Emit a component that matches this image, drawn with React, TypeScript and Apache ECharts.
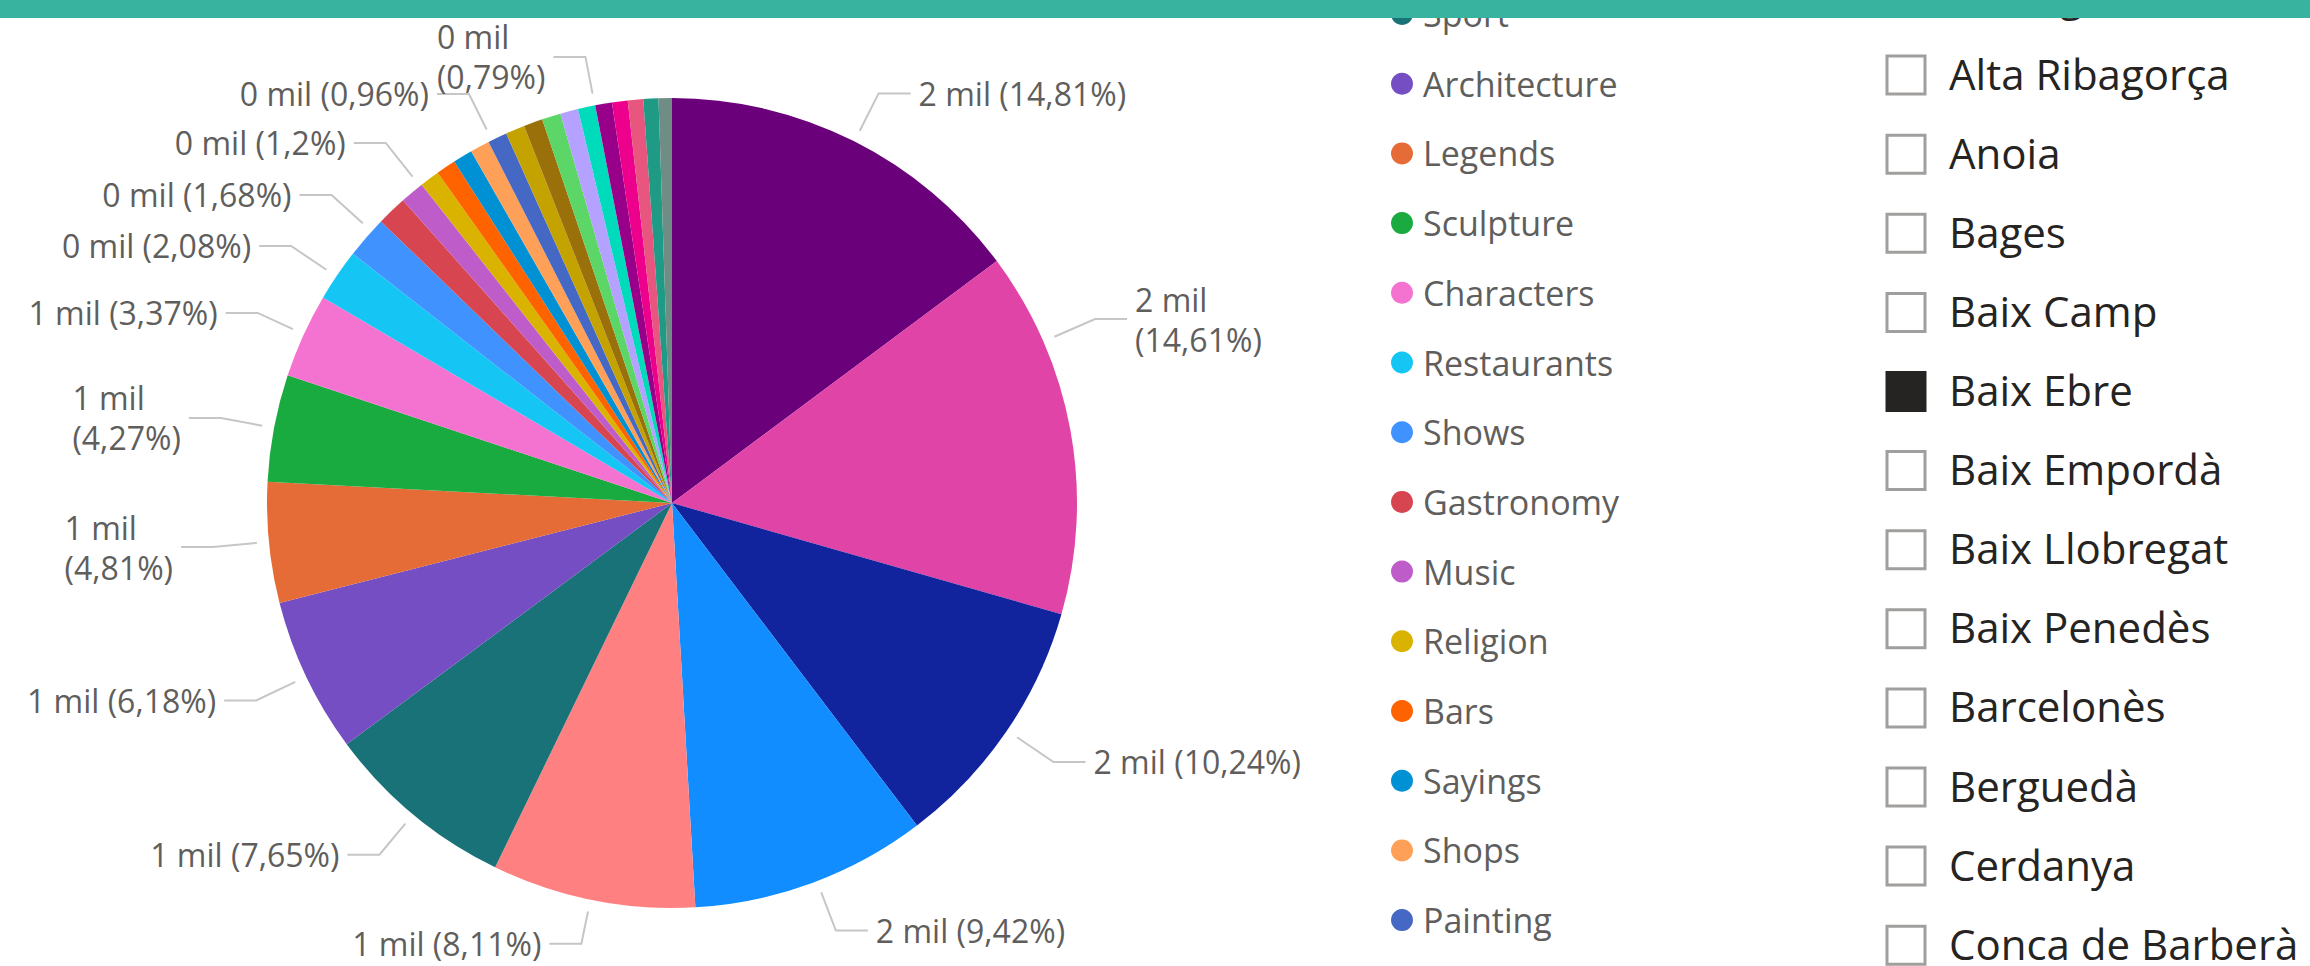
import React, { useEffect, useRef } from "react";
import * as echarts from "echarts";

// ---- data ----
const categories = [
  "Category 1", "Category 2", "Category 3", "Category 4", "Category 5",
  "Sport", "Architecture", "Legends", "Sculpture", "Characters",
  "Restaurants", "Shows", "Gastronomy", "Music", "Religion",
  "Bars", "Sayings", "Shops", "Painting",
  "Category 20", "Category 21", "Category 22", "Category 23", "Category 24",
  "Category 25", "Category 26", "Category 27", "Category 28", "Category 29",
];
const values = [
  2370, 2338, 1638, 1507, 1298,
  1224, 989, 770, 683, 539,
  333, 269, 192, 153, 126,
  125, 125, 124, 123,
  122, 121, 120, 114, 111,
  107, 100, 98, 96, 85,
];
const colors = [
  "#6B007B", "#E044A7", "#12239E", "#118DFF", "#FF8080",
  "#197278", "#744EC2", "#E66C37", "#1AAB40", "#F472D0",
  "#15C6F4", "#4092FF", "#D64550", "#BE5DC9", "#D9B300",
  "#FF6300", "#0091D5", "#FFA058", "#4668C5",
  "#C4A200", "#99700A", "#5BD667", "#B5A1FF", "#00DBBC",
  "#99008A", "#EC008C", "#E8557E", "#1F9A85", "#6F8C85",
];
const legendNames = [
  "Sport", "Architecture", "Legends", "Sculpture", "Characters", "Restaurants",
  "Shows", "Gastronomy", "Music", "Religion", "Bars", "Sayings", "Shops", "Painting",
];
const wrappedLabels = ["Category 2", "Legends", "Sculpture", "Religion"];
const labelMinValue = 126;

const slicerItems = [
  "Alt Urgell", "Alta Ribagorça", "Anoia", "Bages", "Baix Camp", "Baix Ebre",
  "Baix Empordà", "Baix Llobregat", "Baix Penedès", "Barcelonès", "Berguedà",
  "Cerdanya", "Conca de Barberà",
];
const slicerSelected = ["Baix Ebre"];

// label nudges (style): [dx, dy] in px relative to ECharts' own placement
const labelNudges: Record<string, [number, number]> = {
  "Religion": [160, -104],
  "Music": [108, -129],
  "Gastronomy": [56, -122],
  "Shows": [26, -112],
  "Restaurants": [4, -103],
  "Characters": [-16, -78],
  "Sculpture": [-41, -35],
  "Legends": [-48, 2],
  "Architecture": [-44, 14],
  "Sport": [-33, 23],
  "Category 5": [-16, 22],
  "Category 1": [24, -28],
  "Category 2": [12, -107],
  "Category 3": [38, 18],
  "Category 4": [25, 27],
};

const FONT = '"Open Sans", "Noto Sans", sans-serif';
const CENTER: [number, number] = [672, 503];
const RADIUS = 405;

export default function App() {
  const ref = useRef<HTMLDivElement>(null);

  useEffect(() => {
    if (!ref.current) return;
    const chart = echarts.init(ref.current, undefined, { renderer: "svg" });
    const total = values.reduce((a, b) => a + b, 0);

    const data = categories.map((name, i) => ({
      name,
      value: values[i],
      itemStyle: { color: colors[i] },
      label: { show: values[i] >= labelMinValue },
      labelLine: { show: values[i] >= labelMinValue },
    }));

    const slicerGraphics: any[] = [];
    const firstY = -4;
    const pitch = 79.1;
    slicerItems.forEach((name, i) => {
      const y = firstY + i * pitch;
      const sel = slicerSelected.includes(name);
      slicerGraphics.push({
        type: "rect",
        shape: { x: 1887, y: y - 19, width: 38, height: 38 },
        style: {
          fill: sel ? "#252423" : "#ffffff",
          stroke: sel ? "#252423" : "#A19F9D",
          lineWidth: 3,
        },
        z: 10,
      });
      slicerGraphics.push({
        type: "text",
        x: 1949,
        y: y - 2,
        style: {
          text: name,
          font: `42px ${FONT}`,
          fill: "#252423",
          verticalAlign: "middle",
          align: "left",
        },
        z: 10,
      });
    });

    chart.setOption({
      animation: false,
      backgroundColor: "#ffffff",
      legend: {
        type: "plain",
        orient: "vertical",
        left: 1386,
        top: -11,
        data: legendNames,
        icon: "circle",
        itemWidth: 22,
        itemHeight: 22,
        itemGap: 29.7,
        selectedMode: false,
        textStyle: {
          fontSize: 34,
          color: "#605E5C",
          fontFamily: FONT,
          lineHeight: 40,
          padding: [0, 0, 0, 5],
        },
      },
      graphic: [
        ...slicerGraphics,
        {
          type: "rect",
          shape: { x: 0, y: 0, width: 2310, height: 18 },
          style: { fill: "#38B3A0" },
          z: 100,
        },
      ],
      series: [
        {
          type: "pie",
          center: CENTER,
          radius: RADIUS,
          startAngle: 90,
          clockwise: true,
          avoidLabelOverlap: true,
          itemStyle: { borderWidth: 0 },
          emphasis: { disabled: true },
          label: {
            position: "outside",
            fontSize: 32,
            fontFamily: FONT,
            color: "#605E5C",
            lineHeight: 40,
            formatter: (p: any) => {
              const pct = (p.value / total) * 100;
              const pctStr = String(Number(pct.toFixed(2))).replace(".", ",");
              const mil = Math.round(p.value / 1000) + " mil";
              return wrappedLabels.includes(p.name)
                ? `${mil}\n(${pctStr}%)`
                : `${mil} (${pctStr}%)`;
            },
          },
          labelLine: {
            length: 22,
            length2: 26,
            lineStyle: { color: "#C8C6C4", width: 2 },
          },
          labelLayout: (params: any) => {
            const name = categories[params.dataIndex];
            const nudge = labelNudges[name];
            const r = params.labelRect;
            if (!nudge || !r) return {};
            const x = r.x + nudge[0];
            const y = r.y + nudge[1];
            const cy = y + r.height / 2;
            const leftSide = x + r.width / 2 < CENTER[0];
            const sx = leftSide ? x + r.width + 8 : x - 8;
            const ex = leftSide ? sx + 32 : sx - 32;
            const vx = ex - CENTER[0];
            const vy = cy - CENTER[1];
            const d = Math.hypot(vx, vy);
            const k = (RADIUS + 12) / d;
            const px = CENTER[0] + vx * k;
            const py = CENTER[1] + vy * k;
            return {
              x,
              y,
              align: "left",
              verticalAlign: "top",
              labelLinePoints: [
                [px, py],
                [ex, cy],
                [sx, cy],
              ],
            };
          },
          data,
        },
      ],
    });

    return () => chart.dispose();
  }, []);

  return (
    <div
      ref={ref}
      style={{ position: "fixed", left: 0, top: 0, width: 2310, height: 966, background: "#fff" }}
    />
  );
}
